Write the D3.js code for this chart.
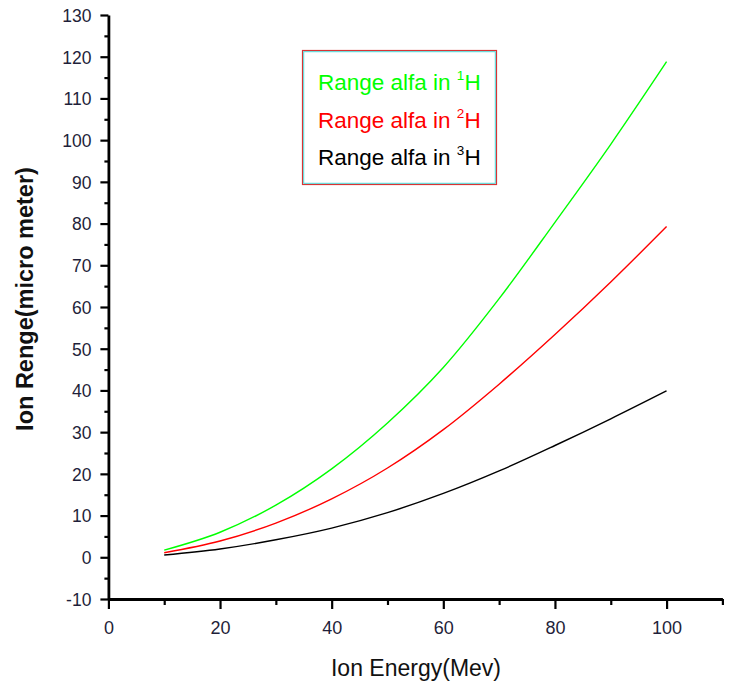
<!DOCTYPE html>
<html>
<head>
<meta charset="utf-8">
<script src="https://cdn.jsdelivr.net/npm/d3@7"></script>
<style>
  html, body { margin: 0; padding: 0; background: #fff; }
  svg { display: block; font-family: Arial, "Liberation Sans", sans-serif; }
</style>
</head>
<body>
<svg id="chart" width="735" height="687"></svg>
<script>
// Ion energy (MeV) at which ranges were computed
const energy = [10, 20, 30, 40, 50, 60, 70, 80, 90, 100];
// Range of alpha particles (micrometres) in each hydrogen isotope
const range1H = [1.7, 6.0, 12.5, 21.2, 32.2, 45.5, 62.0, 80.3, 99.0, 118.8];
const range2H = [1.1, 3.9, 8.2, 14.0, 21.4, 30.6, 41.5, 53.4, 66.0, 79.3];
const range3H = [0.55, 2.0, 4.2, 7.0, 10.7, 15.3, 20.7, 26.8, 33.2, 39.9];

const seriesNames = ["Range alfa in ", "Range alfa in ", "Range alfa in "];
const seriesIsotope = ["1", "2", "3"];
const seriesColors = ["#00ff00", "#ff0000", "#000000"];

const xMajorTicks = [0, 20, 40, 60, 80, 100];
const xMinorTicks = [10, 30, 50, 70, 90, 110];
const yMajorTicks = [-10, 0, 10, 20, 30, 40, 50, 60, 70, 80, 90, 100, 110, 120, 130];
const yMinorTicks = [-5, 5, 15, 25, 35, 45, 55, 65, 75, 85, 95, 105, 115, 125];

const svg = d3.select("#chart");
const x = d3.scaleLinear().domain([0, 110]).range([108.4, 722.4]);
const y = d3.scaleLinear().domain([-10, 130]).range([599, 15]);

const labelColor = "#1f1f3a";
const plainInt = d => String(d);   // keeps an ASCII hyphen for negatives

// curves
const line = d3.line()
  .x(d => x(d[0]))
  .y(d => y(d[1]))
  .curve(d3.curveMonotoneX);

[range1H, range2H, range3H].forEach((vals, i) => {
  svg.append("path")
    .datum(energy.map((e, k) => [e, vals[k]]))
    .attr("d", line)
    .attr("fill", "none")
    .attr("stroke", seriesColors[i])
    .attr("stroke-width", 1.4);
});

// x axis
const xAxis = svg.append("g").attr("transform", "translate(0,599)");
xAxis.call(d3.axisBottom(x).tickValues(xMajorTicks).tickSize(10).tickSizeOuter(0).tickFormat(plainInt));
const xMinor = svg.append("g").attr("transform", "translate(0,599)");
xMinor.call(d3.axisBottom(x).tickValues(xMinorTicks).tickSize(6).tickSizeOuter(0).tickFormat(""));
xMinor.select(".domain").remove();

// y axis
const yAxis = svg.append("g").attr("transform", "translate(108.4,0)");
yAxis.call(d3.axisLeft(y).tickValues(yMajorTicks).tickSize(8).tickSizeOuter(0).tickFormat(plainInt));
const yMinor = svg.append("g").attr("transform", "translate(108.4,0)");
yMinor.call(d3.axisLeft(y).tickValues(yMinorTicks).tickSize(4).tickSizeOuter(0).tickFormat(""));
yMinor.select(".domain").remove();

svg.selectAll(".domain").attr("stroke", "#000").attr("stroke-width", 2.8);
svg.selectAll(".tick line").attr("stroke", "#000").attr("stroke-width", 2.2);

xAxis.selectAll(".tick text")
  .attr("font-size", 18)
  .attr("font-family", "Arial, 'Liberation Sans', sans-serif")
  .attr("fill", labelColor)
  .attr("y", 0).attr("dy", 0)
  .attr("transform", "translate(0,35)");

yAxis.selectAll(".tick text")
  .attr("font-size", 17.5)
  .attr("font-family", "Arial, 'Liberation Sans', sans-serif")
  .attr("fill", labelColor)
  .attr("x", -17)
  .attr("dy", "0.36em");

// axis titles
svg.append("text")
  .attr("x", 416).attr("y", 676)
  .attr("text-anchor", "middle")
  .attr("font-size", 23)
  .attr("fill", "#111")
  .text("Ion Energy(Mev)");

svg.append("text")
  .attr("transform", "translate(33,299) rotate(-90)")
  .attr("text-anchor", "middle")
  .attr("font-size", 23.5)
  .attr("font-weight", "bold")
  .attr("fill", "#111")
  .text("Ion Renge(micro meter)");

// legend
const legend = svg.append("g");
legend.append("rect")
  .attr("x", 302.5).attr("y", 50.5).attr("width", 194).attr("height", 134)
  .attr("fill", "#fff").attr("stroke", "#d83434").attr("stroke-width", 1.2);
legend.append("rect")
  .attr("x", 303.7).attr("y", 51.7).attr("width", 191.6).attr("height", 131.6)
  .attr("fill", "none").attr("stroke", "#4cd8d8").attr("stroke-width", 1);

const baselines = [90, 128, 165];
seriesNames.forEach((name, i) => {
  const t = legend.append("text")
    .attr("x", 318).attr("y", baselines[i])
    .attr("font-size", 22.5)
    .attr("fill", seriesColors[i]);
  t.append("tspan").text(name);
  t.append("tspan").attr("font-size", 13.5).attr("dy", -10).text(seriesIsotope[i]);
  t.append("tspan").attr("dy", 10).text("H");
});
</script>
</body>
</html>
